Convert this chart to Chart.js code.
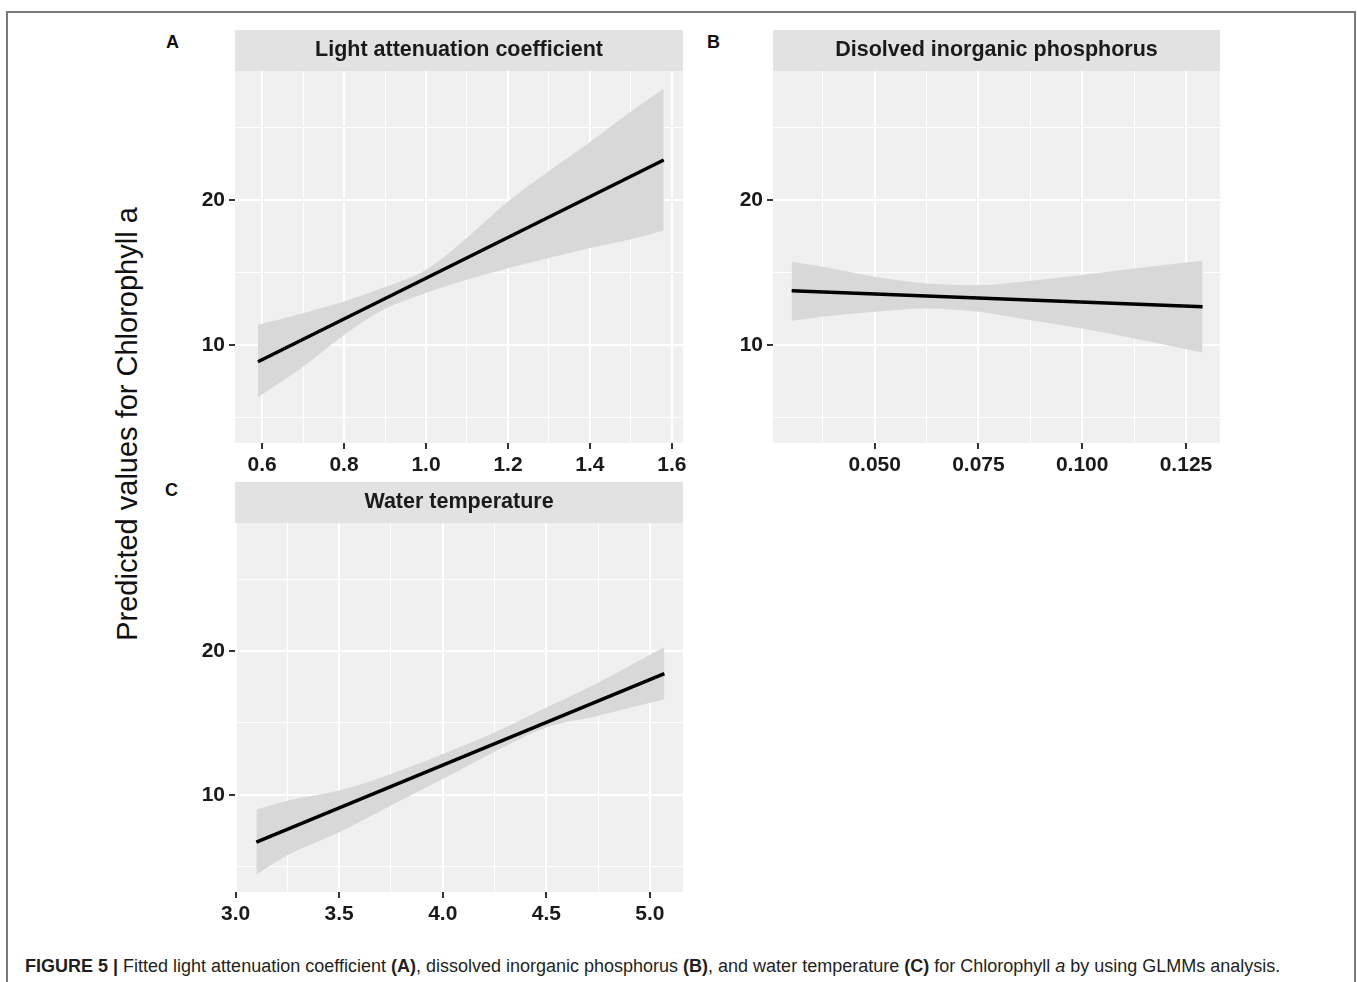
<!DOCTYPE html>
<html>
<head>
<meta charset="utf-8">
<script src="https://cdn.jsdelivr.net/npm/chart.js@4.4.1/dist/chart.umd.min.js"></script>
<style>
    body { margin: 0; background: #fff; width: 1357px; height: 982px; position: relative; overflow: hidden; font-family: 'Liberation Sans', Arial, sans-serif; }
    .frame { position: absolute; left: 6px; top: 11px; width: 1346px; height: 1000px; border: 2px solid #7a7a7a; border-bottom: none; }
    canvas { position: absolute; }
    .tag { position: absolute; font-weight: bold; font-size: 18px; color: #111; }
    .ylab { position: absolute; left: 127px; top: 424px; font-size: 29px; color: #111; white-space: nowrap; transform: translate(-50%, -50%) rotate(-90deg); }
    .caption { position: absolute; left: 25px; top: 956px; font-size: 18px; color: #231f20; white-space: nowrap; }
</style>
</head>
<body>
<div class="frame"></div>
<div class="tag" style="left:166px; top:32px;">A</div>
<div class="tag" style="left:707px; top:32px;">B</div>
<div class="tag" style="left:165px; top:480px;">C</div>
<div class="ylab">Predicted values for Chlorophyll a</div>
<canvas id="panelA" width="558" height="457" style="left:145px; top:26px;"></canvas>
<canvas id="panelB" width="557" height="457" style="left:683px; top:26px;"></canvas>
<canvas id="panelC" width="558" height="454" style="left:145px; top:478px;"></canvas>
<div class="caption"><b>FIGURE 5 |</b> Fitted light attenuation coefficient <b>(A)</b>, dissolved inorganic phosphorus <b>(B)</b>, and water temperature <b>(C)</b> for Chlorophyll <i>a</i> by using GLMMs analysis.</div>

<script>
// shared y axis (predicted chlorophyll a)
const yMajor = [10, 20];
const yMinor = [5, 15, 25];

// A - light attenuation coefficient
const lightFitX = [0.59, 1.58];
const lightFitY = [8.85, 22.76];
const lightBandX = [0.59, 0.7, 0.8, 0.9, 1.0, 1.1, 1.2, 1.3, 1.4, 1.5, 1.58];
const lightUpper = [11.4, 12.2, 13.0, 14.0, 15.2, 17.4, 19.9, 22.0, 24.0, 26.1, 27.7];
const lightLower = [6.4, 8.5, 10.7, 12.5, 13.6, 14.5, 15.3, 16.0, 16.7, 17.3, 17.9];
const lightMajor = [0.6, 0.8, 1.0, 1.2, 1.4, 1.6];
const lightMinor = [0.7, 0.9, 1.1, 1.3, 1.5];

// B - dissolved inorganic phosphorus
const phosFitX = [0.030, 0.129];
const phosFitY = [13.75, 12.64];
const phosBandX = [0.030, 0.0375, 0.05, 0.0625, 0.075, 0.0875, 0.1, 0.1125, 0.129];
const phosUpper = [15.75, 15.4, 14.71, 14.25, 14.14, 14.44, 14.83, 15.29, 15.82];
const phosLower = [11.68, 11.95, 12.3, 12.53, 12.3, 11.72, 11.15, 10.46, 9.49];
const phosMajor = [0.050, 0.075, 0.100, 0.125];
const phosMinor = [0.0375, 0.0625, 0.0875, 0.1125];

// C - water temperature
const tempFitX = [3.10, 5.07];
const tempFitY = [6.72, 18.43];
const tempBandX = [3.10, 3.25, 3.5, 3.75, 4.0, 4.25, 4.5, 4.75, 5.07];
const tempUpper = [8.98, 9.6, 10.3, 11.45, 12.84, 14.34, 16.07, 17.8, 20.28];
const tempLower = [4.46, 5.8, 7.41, 9.26, 11.1, 13.0, 14.69, 15.5, 16.65];
const tempMajor = [3.0, 3.5, 4.0, 4.5, 5.0];
const tempMinor = [3.25, 3.75, 4.25, 4.75];

Chart.defaults.font.family = "'Liberation Sans', Arial, sans-serif";

// grey panel + facet strip, ggplot style
const panelBg = {
    id: 'panelBg',
    beforeDraw(chart, args, opts) {
        const { ctx, chartArea: a } = chart;
        ctx.save();
        ctx.fillStyle = '#f0f0f0';
        ctx.fillRect(a.left, a.top, a.right - a.left, a.bottom - a.top);
        ctx.fillStyle = '#e2e2e2';
        ctx.fillRect(a.left, a.top - 41, a.right - a.left, 41);
        ctx.fillStyle = '#1a1a1a';
        ctx.font = "bold 21.5px 'Liberation Sans', Arial, sans-serif";
        ctx.textAlign = 'center';
        ctx.textBaseline = 'middle';
        ctx.fillText(opts.title, (a.left + a.right) / 2, a.top - 21);
        ctx.restore();
    }
};

function axis(major, minor, min, max, fmt, isX) {
    const isMajor = c => c.tick && major.includes(c.tick.value);
    return {
        type: 'linear',
        min: min,
        max: max,
        afterBuildTicks: s => {
            s.ticks = major.concat(minor).sort((a, b) => a - b).map(v => ({ value: v }));
        },
        afterFit: s => {
            if (isX) s.height = 40; else s.width = 90;
        },
        border: { display: false },
        grid: {
            color: '#ffffff',
            lineWidth: c => isMajor(c) ? 2 : 1,
            tickColor: c => isMajor(c) ? '#333333' : 'rgba(0,0,0,0)',
            tickWidth: 2,
            tickLength: 6
        },
        ticks: {
            autoSkip: false,
            maxRotation: 0,
            padding: 4,
            color: '#1a1a1a',
            font: { size: 21, weight: 'bold' },
            callback: v => major.includes(v) ? fmt(v) : ''
        }
    };
}

function toPoints(xs, ys) {
    return xs.map((x, i) => ({ x: x, y: ys[i] }));
}

function makePanel(id, title, fitX, fitY, bandX, upper, lower, xScale) {
    new Chart(document.getElementById(id), {
        type: 'line',
        data: {
            datasets: [{
                data: toPoints(fitX, fitY),
                borderColor: '#000000',
                borderWidth: 3.5,
                pointRadius: 0,
                fill: false
            }, {
                data: toPoints(bandX, upper),
                borderWidth: 0,
                pointRadius: 0,
                cubicInterpolationMode: 'monotone',
                backgroundColor: '#d8d8d8',
                fill: '+1'
            }, {
                data: toPoints(bandX, lower),
                borderWidth: 0,
                pointRadius: 0,
                cubicInterpolationMode: 'monotone',
                fill: false
            }]
        },
        options: {
            responsive: false,
            animation: false,
            layout: { padding: { top: 45, right: 20, left: 0, bottom: 0 } },
            plugins: {
                legend: { display: false },
                tooltip: { enabled: false },
                panelBg: { title: title }
            },
            scales: {
                x: xScale,
                y: axis(yMajor, yMinor, 3.25, 28.9, v => String(v), false)
            }
        },
        plugins: [panelBg]
    });
}

makePanel('panelA', 'Light attenuation coefficient', lightFitX, lightFitY, lightBandX, lightUpper, lightLower,
    axis(lightMajor, lightMinor, 0.534, 1.627, v => v.toFixed(1), true));
makePanel('panelB', 'Disolved inorganic phosphorus', phosFitX, phosFitY, phosBandX, phosUpper, phosLower,
    axis(phosMajor, phosMinor, 0.0255, 0.1332, v => v.toFixed(3), true));
makePanel('panelC', 'Water temperature', tempFitX, tempFitY, tempBandX, tempUpper, tempLower,
    axis(tempMajor, tempMinor, 2.997, 5.16, v => v.toFixed(1), true));
</script>
</body>
</html>
